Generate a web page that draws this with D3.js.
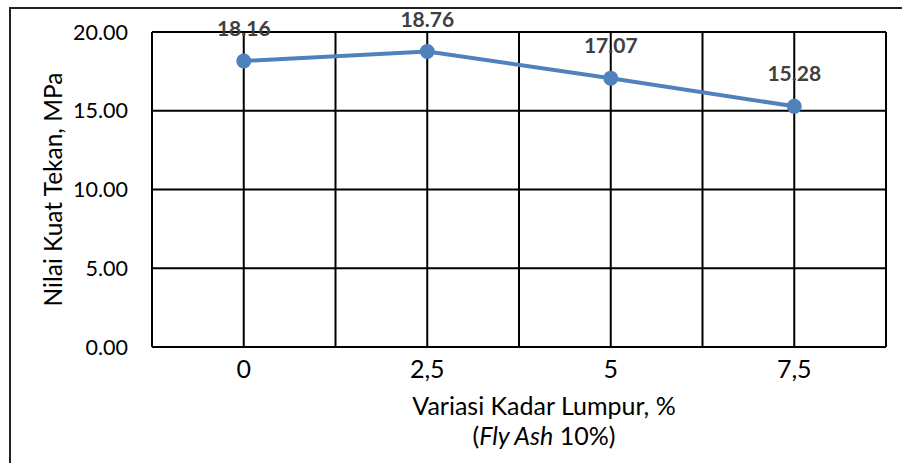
<!DOCTYPE html>
<html>
<head>
<meta charset="utf-8">
<script src="https://cdn.jsdelivr.net/npm/d3@7"></script>
<style>
  html, body { margin: 0; padding: 0; background: #fff; }
  svg { display: block; font-family: Lato, "Open Sans", sans-serif; }
</style>
</head>
<body>
<div id="chart"></div>
<script>
var categories = ["0", "2,5", "5", "7,5"];
var kuatTekan = [18.16, 18.76, 17.07, 15.28];
var yTicks = [0, 5, 10, 15, 20];

var width = 902, height = 463;
var plot = { left: 152, top: 32, right: 886, bottom: 347 };

var svg = d3.select("#chart").append("svg")
  .attr("width", width)
  .attr("height", height);

// outer chart frame (runs past the right and bottom edges)
svg.append("rect")
  .attr("x", 10).attr("y", 8)
  .attr("width", 1000).attr("height", 1000)
  .attr("fill", "none")
  .attr("stroke", "#222")
  .attr("stroke-width", 2);

var x = d3.scaleBand()
  .domain(categories)
  .range([plot.left, plot.right])
  .padding(0);

var y = d3.scaleLinear()
  .domain([0, 20])
  .range([plot.bottom, plot.top]);

function cx(c) { return x(c) + x.bandwidth() / 2; }

// vertical gridlines: band edges and centers
var vLines = [];
categories.forEach(function(c) {
  vLines.push(x(c));
  vLines.push(cx(c));
});
vLines.push(plot.right);

svg.append("g").selectAll("line")
  .data(vLines)
  .enter().append("line")
  .attr("x1", function(d) { return d; })
  .attr("x2", function(d) { return d; })
  .attr("y1", plot.top)
  .attr("y2", plot.bottom)
  .attr("stroke", "#000")
  .attr("stroke-width", 2);

svg.append("g").selectAll("line")
  .data(yTicks)
  .enter().append("line")
  .attr("x1", plot.left)
  .attr("x2", plot.right)
  .attr("y1", function(d) { return y(d); })
  .attr("y2", function(d) { return y(d); })
  .attr("stroke", "#000")
  .attr("stroke-width", 2);

// y tick labels
svg.append("g").selectAll("text")
  .data(yTicks)
  .enter().append("text")
  .attr("x", 128)
  .attr("y", function(d) { return y(d) + 7.5; })
  .attr("text-anchor", "end")
  .attr("font-size", 21.5)
  .attr("fill", "#000")
  .text(d3.format(".2f"));

// x tick labels
svg.append("g").selectAll("text")
  .data(categories)
  .enter().append("text")
  .attr("x", cx)
  .attr("y", 378)
  .attr("text-anchor", "middle")
  .attr("font-size", 25)
  .attr("fill", "#000")
  .text(function(d) { return d; });

// axis titles
svg.append("text")
  .attr("transform", "translate(62," + ((plot.top + plot.bottom) / 2) + ") rotate(-90)")
  .attr("text-anchor", "middle")
  .attr("font-size", 24.5)
  .attr("fill", "#000")
  .text("Nilai Kuat Tekan, MPa");

svg.append("text")
  .attr("x", 544).attr("y", 415)
  .attr("text-anchor", "middle")
  .attr("font-size", 25)
  .attr("fill", "#000")
  .text("Variasi Kadar Lumpur, %");

var sub = svg.append("text")
  .attr("x", 544).attr("y", 445)
  .attr("text-anchor", "middle")
  .attr("font-size", 25)
  .attr("fill", "#000");
sub.append("tspan").text("(");
sub.append("tspan").attr("font-style", "italic").text("Fly Ash");
sub.append("tspan").text(" 10%)");

// series line
var pts = categories.map(function(c, i) { return { c: c, v: kuatTekan[i] }; });

svg.append("path")
  .datum(pts)
  .attr("fill", "none")
  .attr("stroke", "#4F81BD")
  .attr("stroke-width", 4)
  .attr("stroke-linejoin", "round")
  .attr("d", d3.line()
    .x(function(d) { return cx(d.c); })
    .y(function(d) { return y(d.v); }));

svg.append("g").selectAll("circle")
  .data(pts)
  .enter().append("circle")
  .attr("cx", function(d) { return cx(d.c); })
  .attr("cy", function(d) { return y(d.v); })
  .attr("r", 7.5)
  .attr("fill", "#4F81BD");

// data labels
svg.append("g").selectAll("text")
  .data(pts)
  .enter().append("text")
  .attr("x", function(d) { return cx(d.c); })
  .attr("y", function(d) { return y(d.v) - 25; })
  .attr("text-anchor", "middle")
  .attr("font-size", 21)
  .attr("font-weight", "bold")
  .attr("fill", "#404040")
  .text(function(d) { return d3.format(".2f")(d.v); });
</script>
</body>
</html>
